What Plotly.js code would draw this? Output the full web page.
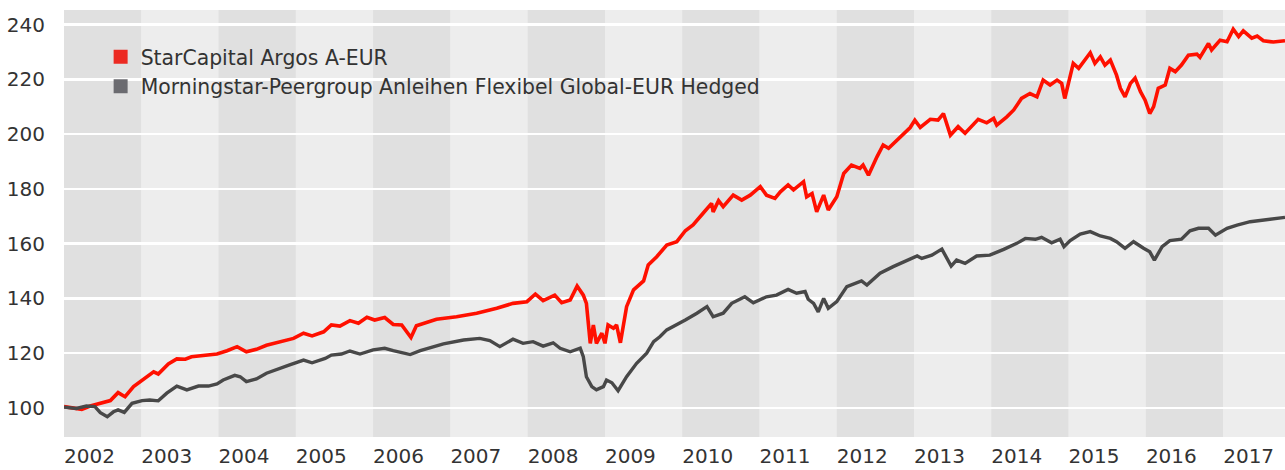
<!DOCTYPE html>
<html>
<head>
<meta charset="utf-8">
<script src="https://cdn.plot.ly/plotly-3.0.1.min.js"></script>
<style>
  html, body { margin: 0; padding: 0; background: #ffffff; }
  #chart { width: 1285px; height: 470px; }
</style>
</head>
<body>
<div id="chart"></div>
<script>
// ---- Data (decimal years, index values) ----
const seriesNames = ["StarCapital Argos A-EUR", "Morningstar-Peergroup Anleihen Flexibel Global-EUR Hedged"];

const argosYears = [2002.00,2002.12,2002.23,2002.34,2002.47,2002.60,2002.70,2002.79,2002.90,2003.03,2003.16,2003.22,2003.35,2003.46,2003.57,2003.65,2003.80,2003.98,2004.11,2004.24,2004.36,2004.49,2004.62,2004.80,2004.97,2005.10,2005.21,2005.36,2005.46,2005.57,2005.70,2005.81,2005.92,2006.02,2006.15,2006.26,2006.37,2006.49,2006.56,2006.82,2007.08,2007.34,2007.60,2007.81,2007.99,2008.10,2008.20,2008.35,2008.44,2008.55,2008.64,2008.72,2008.76,2008.81,2008.85,2008.89,2008.96,2009.00,2009.04,2009.11,2009.15,2009.20,2009.28,2009.37,2009.50,2009.56,2009.67,2009.80,2009.93,2010.04,2010.14,2010.27,2010.38,2010.40,2010.47,2010.53,2010.66,2010.77,2010.88,2011.01,2011.09,2011.20,2011.27,2011.37,2011.44,2011.57,2011.61,2011.68,2011.74,2011.83,2011.89,2012.00,2012.09,2012.19,2012.30,2012.34,2012.41,2012.52,2012.60,2012.67,2012.82,2012.95,2013.01,2013.08,2013.21,2013.31,2013.38,2013.47,2013.57,2013.66,2013.83,2013.94,2014.03,2014.07,2014.20,2014.29,2014.39,2014.50,2014.59,2014.67,2014.76,2014.85,2014.91,2014.95,2015.06,2015.13,2015.28,2015.34,2015.41,2015.47,2015.54,2015.62,2015.67,2015.73,2015.80,2015.86,2015.93,2015.99,2016.05,2016.10,2016.16,2016.25,2016.31,2016.38,2016.46,2016.55,2016.66,2016.70,2016.81,2016.85,2016.96,2017.05,2017.13,2017.20,2017.26,2017.37,2017.44,2017.52,2017.65,2017.80];
const argosValues = [100.5,100.1,99.5,100.7,101.7,102.7,105.6,104.1,107.8,110.5,113.2,112.4,116.1,117.9,117.8,118.7,119.2,119.7,120.9,122.4,120.5,121.4,122.9,124.2,125.4,127.3,126.3,127.8,130.3,129.9,131.9,130.9,133.1,132.1,133.0,130.5,130.3,125.7,130.0,132.4,133.3,134.6,136.4,138.2,138.8,141.6,139.2,141.2,138.4,139.4,144.5,141.2,138.2,123.6,130.3,123.6,127.3,123.6,130.3,129.1,130.3,123.8,137.0,143.1,146.4,152.2,155.2,159.5,160.7,164.7,166.8,171.1,174.7,171.6,175.7,173.5,177.7,175.9,177.7,180.8,177.7,176.5,178.9,181.4,179.6,182.6,177.1,178.3,171.6,177.7,172.3,177.1,185.6,188.7,187.5,188.7,185.0,191.7,196.0,194.8,199.0,202.4,205.1,202.4,205.4,205.1,207.5,199.6,202.7,200.3,205.4,204.1,205.7,203.3,206.3,208.8,213.0,214.8,213.6,219.7,217.9,219.7,218.5,213.0,225.8,224.0,229.7,225.8,228.2,225.2,227.0,221.5,216.7,213.6,218.5,220.4,215.5,212.4,207.5,210.0,216.7,217.9,224.0,222.8,225.2,228.8,229.2,228.0,233.1,230.7,234.3,233.7,238.3,235.6,237.7,235.0,235.8,234.1,233.6,234.1];

const peerYears = [2002.00,2002.16,2002.29,2002.40,2002.47,2002.56,2002.64,2002.70,2002.78,2002.88,2003.01,2003.11,2003.22,2003.33,2003.46,2003.59,2003.74,2003.87,2003.98,2004.06,2004.21,2004.28,2004.36,2004.49,2004.62,2004.75,2004.92,2005.10,2005.21,2005.38,2005.46,2005.59,2005.70,2005.83,2006.00,2006.15,2006.26,2006.48,2006.61,2006.91,2007.17,2007.38,2007.51,2007.64,2007.81,2007.94,2008.07,2008.20,2008.33,2008.42,2008.55,2008.68,2008.72,2008.76,2008.83,2008.89,2008.98,2009.02,2009.09,2009.17,2009.28,2009.41,2009.54,2009.63,2009.71,2009.80,2009.93,2010.04,2010.19,2010.32,2010.40,2010.53,2010.64,2010.81,2010.92,2011.09,2011.22,2011.37,2011.48,2011.59,2011.63,2011.70,2011.76,2011.83,2011.89,2012.00,2012.13,2012.24,2012.32,2012.39,2012.56,2012.73,2012.88,2013.04,2013.10,2013.23,2013.36,2013.48,2013.55,2013.66,2013.81,2013.98,2014.16,2014.33,2014.44,2014.57,2014.65,2014.78,2014.89,2014.94,2015.02,2015.15,2015.28,2015.41,2015.54,2015.62,2015.73,2015.84,2015.97,2016.05,2016.11,2016.21,2016.31,2016.46,2016.57,2016.68,2016.81,2016.90,2017.05,2017.18,2017.35,2017.52,2017.65,2017.80];
const peerValues = [100.3,99.8,100.7,100.5,98.3,96.8,98.6,99.3,98.4,101.7,102.7,102.9,102.6,105.4,108.0,106.6,108.0,108.0,108.8,110.2,111.9,111.4,109.6,110.6,112.7,113.9,115.7,117.5,116.5,118.1,119.3,119.7,120.8,119.7,121.2,121.8,120.9,119.5,120.9,123.4,124.8,125.4,124.6,122.4,125.1,123.6,124.2,122.6,123.8,121.8,120.5,121.8,118.7,111.4,107.8,106.6,107.8,110.2,109.2,106.3,111.4,116.3,120.0,124.2,126.0,128.5,130.3,132.1,134.6,137.0,133.3,134.6,138.2,140.6,138.4,140.6,141.2,143.3,141.9,142.5,139.7,138.2,135.1,140.0,136.4,138.8,144.3,145.7,146.4,144.9,149.2,151.6,153.4,155.5,154.6,155.8,158.0,151.8,154.0,152.8,155.5,155.8,157.9,160.1,161.9,161.6,162.3,160.3,161.6,158.9,161.1,163.5,164.4,162.8,161.9,160.7,158.3,160.7,158.3,157.0,154.0,158.9,161.1,161.6,164.7,165.6,165.6,163.1,165.6,166.8,168.0,168.6,169.0,169.6];

const yearTicks = [2002,2003,2004,2005,2006,2007,2008,2009,2010,2011,2012,2013,2014,2015,2016,2017];
const yTicks = [100,120,140,160,180,200,220,240];

// ---- Styling ----
const FONT = "'DejaVu Sans', 'Open Sans', sans-serif";
const TEXT = "#333333";
const xEnd = 2017.80;

const traces = [
  {x: argosYears, y: argosValues, type: "scatter", mode: "lines", name: seriesNames[0],
   line: {color: "#ff1000", width: 3.6}, showlegend: false, hoverinfo: "skip"},
  {x: peerYears, y: peerValues, type: "scatter", mode: "lines", name: seriesNames[1],
   line: {color: "#484848", width: 3.4}, showlegend: false, hoverinfo: "skip"},
  {x: [null], y: [null], type: "scatter", mode: "markers", name: seriesNames[0],
   marker: {symbol: "square", size: 14, color: "#ec2a22"}},
  {x: [null], y: [null], type: "scatter", mode: "markers", name: seriesNames[1],
   marker: {symbol: "square", size: 14, color: "#6b6b70"}}
];

// alternating year bands (derived from the year ticks)
const shapes = yearTicks.map((yr, i) => ({
  type: "rect", xref: "x", yref: "paper", layer: "below",
  x0: yr, x1: Math.min(yr + 1, xEnd), y0: 0, y1: 1,
  fillcolor: i % 2 === 0 ? "#e0e0e0" : "#ededed", line: {width: 0}
}));

const layout = {
  width: 1285, height: 470,
  margin: {l: 64, r: 0, t: 10, b: 33, pad: 0},
  paper_bgcolor: "#ffffff",
  plot_bgcolor: "#ededed",
  font: {family: FONT, color: TEXT, size: 20},
  showlegend: true,
  legend: {
    x: 0.030, y: 0.937, xanchor: "left", yanchor: "top",
    bgcolor: "rgba(0,0,0,0)", borderwidth: 0,
    font: {family: FONT, size: 20.4, color: TEXT},
    traceorder: "normal", itemclick: false
  },
  xaxis: {
    range: [2002, xEnd], tickmode: "array", tickvals: yearTicks,
    ticktext: yearTicks.map(String),
    ticklabelposition: "outside right",
    ticks: "", ticklabelstandoff: 5,
    showgrid: false, zeroline: false, showline: false,
    tickfont: {family: FONT, size: 20, color: TEXT}, fixedrange: true
  },
  yaxis: {
    range: [89.4, 245.3], tickmode: "array", tickvals: yTicks,
    ticks: "outside", ticklen: 14, tickcolor: "rgba(0,0,0,0)",
    showgrid: true, gridcolor: "#ffffff", gridwidth: 2.5,
    zeroline: false, showline: false,
    tickfont: {family: FONT, size: 20, color: TEXT}, fixedrange: true
  },
  shapes: shapes
};

Plotly.newPlot("chart", traces, layout, {staticPlot: true, displayModeBar: false});
</script>
</body>
</html>
